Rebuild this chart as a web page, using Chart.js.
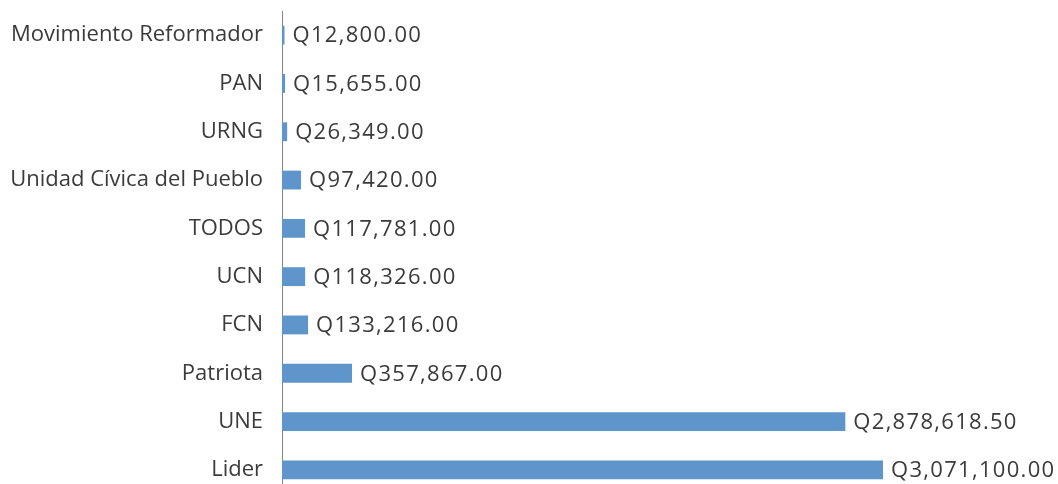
<!DOCTYPE html>
<html>
<head>
<meta charset="utf-8">
<script src="https://cdn.jsdelivr.net/npm/chart.js@4.4.1/dist/chart.umd.min.js"></script>
<style>
  html, body { margin: 0; padding: 0; background: #fff; overflow: hidden; }
  #wrap { position: relative; width: 1058px; height: 494px; }
</style>
</head>
<body>
<div id="wrap"><canvas id="chart"></canvas></div>
<script>
var categories = ['Movimiento Reformador', 'PAN', 'URNG', 'Unidad Cívica del Pueblo', 'TODOS', 'UCN', 'FCN', 'Patriota', 'UNE', 'Lider'];
var amounts = [12800, 15655, 26349, 97420, 117781, 118326, 133216, 357867, 2878618.5, 3071100];

var FONT = "'Open Sans', 'Noto Sans', sans-serif";
var TEXT = '#3b3b3b';

function money(v) {
  return 'Q' + v.toLocaleString('en-US', { minimumFractionDigits: 2, maximumFractionDigits: 2 });
}

// value labels to the right of every bar
var barLabels = {
  id: 'barLabels',
  afterDatasetsDraw: function (chart) {
    var ctx = chart.ctx;
    var meta = chart.getDatasetMeta(0);
    ctx.save();
    ctx.font = '22px ' + FONT;
    ctx.letterSpacing = '1.3px';
    ctx.fillStyle = TEXT;
    ctx.textAlign = 'left';
    ctx.textBaseline = 'middle';
    meta.data.forEach(function (bar, i) {
      ctx.fillText(money(amounts[i]), bar.x + 8, bar.y + 1);
    });
    ctx.restore();
  }
};

new Chart(document.getElementById('chart'), {
  type: 'bar',
  data: {
    labels: categories,
    datasets: [{
      data: amounts,
      backgroundColor: '#5E95CA',
      borderWidth: 0,
      categoryPercentage: 1,
      barPercentage: 0.39
    }]
  },
  options: {
    indexAxis: 'y',
    responsive: true,
    maintainAspectRatio: false,
    animation: false,
    layout: { padding: { top: 11, right: 3, left: 0, bottom: 0 } },
    plugins: {
      legend: { display: false },
      tooltip: { enabled: false }
    },
    scales: {
      x: {
        display: false,
        min: 0,
        max: 3950000
      },
      y: {
        afterFit: function (scale) {
          scale.width = 282;
          scale.paddingTop = 0;
          scale.paddingBottom = 0;
        },
        grid: { display: false },
        border: { display: true, color: '#868686', width: 1 },
        ticks: {
          color: TEXT,
          padding: 11,
          font: { family: FONT, size: 22 }
        }
      }
    }
  },
  plugins: [barLabels]
});
</script>
</body>
</html>
